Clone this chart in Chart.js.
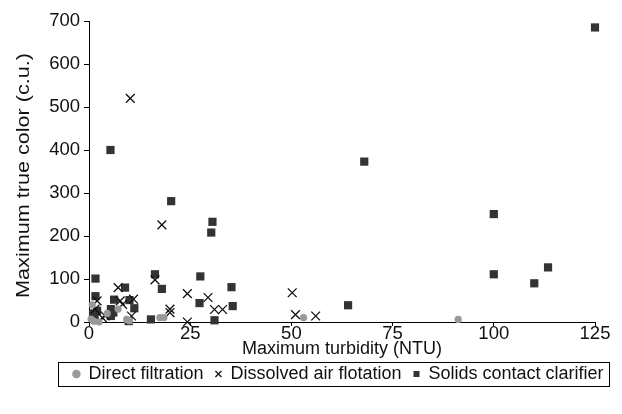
<!DOCTYPE html>
<html>
<head>
<meta charset="utf-8">
<script src="https://cdn.jsdelivr.net/npm/chart.js@4.4.1/dist/chart.umd.min.js"></script>
<style>
  html, body { margin: 0; padding: 0; background: #fff; }
  #wrap { width: 622px; height: 414px; }
</style>
</head>
<body>
<div id="wrap"><canvas id="c" width="622" height="414"></canvas></div>
<script>
  // Dữ liệu: [turbidity NTU, true color c.u.]
  const directFiltration = [
    [91.2, 6], [53, 10], [17.5, 10], [18.5, 10], [9.3, 6], [7.2, 30],
    [0.5, 7], [1.2, 2], [0.8, 40], [2.5, 0], [10, 3], [4.5, 20]
  ];
  const dissolvedAir = [
    [10.2, 520], [18, 226], [16.3, 98], [24.3, 66], [24.3, 0], [29.4, 57],
    [31, 29], [33, 29], [50.2, 68], [51, 17], [56, 14], [20, 30], [20, 22],
    [7.2, 80], [7.7, 49], [11, 53], [10.5, 14], [2, 49], [3.3, 10], [8.3, 41],
    [4, 14], [1.5, 30]
  ];
  const solidsContact = [
    [125, 685], [100, 251], [100, 111], [113.4, 127], [110, 90], [68, 373],
    [64, 39], [30.5, 233], [30.2, 208], [27.5, 106], [35.2, 81], [27.3, 44],
    [35.5, 37], [31, 4], [20.3, 281], [5.3, 400], [16.3, 111], [18, 77],
    [15.3, 6], [10, 51], [11.2, 32], [9.8, 2], [6.2, 52], [8.9, 80], [5.4, 30],
    [5.4, 14], [1.6, 101], [1.6, 60], [2, 26], [1.4, 12], [6, 22], [1, 20]
  ];
  const xTicks = [0, 25, 50, 75, 100, 125];
  const yTicks = [0, 100, 200, 300, 400, 500, 600, 700];
  const yTitle = 'Maximum true color (c.u.)';

  const toPts = (arr) => arr.map(([x, y]) => ({ x, y }));
  const FAMILY = 'Liberation Sans, Arial, sans-serif';
  const FONT = { family: FAMILY, size: 18 };
  const TICK_FONT = { family: FAMILY, size: 18.5 };
  const LEGEND_SHIFT = 41; // chú thích lệch phải như hình gốc

  // Dời chú thích sang phải (trước khi tính hitbox)
  const legendShift = {
    id: 'legendShift',
    afterLayout(chart) {
      const lg = chart.legend;
      if (!lg) return;
      lg.left += LEGEND_SHIFT;
      lg.right += LEGEND_SHIFT;
    }
  };

  // Khung viền quanh chú thích
  const legendBorder = {
    id: 'legendBorder',
    afterDraw(chart) {
      const lg = chart.legend;
      if (!lg || !lg.legendHitBoxes || !lg.legendHitBoxes.length) return;
      const hb = lg.legendHitBoxes;
      const left = Math.min(...hb.map(h => h.left)) - 15;
      const right = Math.max(...hb.map(h => h.left + h.width)) + 6;
      const top = Math.min(...hb.map(h => h.top)) - 3;
      const bottom = Math.max(...hb.map(h => h.top + h.height)) + 3;
      const ctx = chart.ctx;
      ctx.save();
      ctx.strokeStyle = '#000';
      ctx.lineWidth = 1;
      ctx.strokeRect(Math.round(left) + 0.5, Math.round(top) + 0.5,
        Math.round(right - left), Math.round(bottom - top));
      ctx.restore();
    }
  };

  // Tiêu đề trục y (kéo giãn theo chiều dọc như hình gốc)
  const yTitlePlugin = {
    id: 'yTitle',
    afterDraw(chart) {
      const { ctx, chartArea } = chart;
      ctx.save();
      ctx.translate(24, (chartArea.top + chartArea.bottom) / 2 + 4);
      ctx.rotate(-Math.PI / 2);
      ctx.scale(1.2, 1);
      ctx.font = `${FONT.size}px ${FONT.family}`;
      ctx.fillStyle = '#111';
      ctx.textAlign = 'center';
      ctx.textBaseline = 'middle';
      ctx.fillText(yTitle, 0, 0);
      ctx.restore();
    }
  };

  new Chart(document.getElementById('c'), {
    type: 'scatter',
    data: {
      datasets: [
        {
          label: 'Direct filtration',
          data: toPts(directFiltration),
          pointStyle: 'circle',
          pointRadius: 3.6,
          backgroundColor: '#999',
          borderColor: '#999',
          borderWidth: 0,
          clip: false
        },
        {
          label: 'Dissolved air flotation',
          data: toPts(dissolvedAir),
          pointStyle: 'crossRot',
          pointRadius: 6.2,
          backgroundColor: '#111',
          borderColor: '#111',
          borderWidth: 1.3,
          clip: false
        },
        {
          label: 'Solids contact clarifier',
          data: toPts(solidsContact),
          pointStyle: 'rect',
          pointRadius: 5.8,
          backgroundColor: '#333',
          borderColor: '#333',
          borderWidth: 0,
          clip: false
        }
      ]
    },
    options: {
      responsive: false,
      animation: false,
      layout: { padding: { left: 0, right: 27, top: 21, bottom: 21 } },
      plugins: {
        tooltip: { enabled: false },
        legend: {
          position: 'bottom',
          labels: {
            usePointStyle: true,
            boxWidth: 6,
            boxHeight: 6,
            padding: 12,
            color: '#111',
            font: FONT
          }
        }
      },
      scales: {
        x: {
          type: 'linear',
          min: 0, max: 125,
          afterBuildTicks: (s) => { s.ticks = xTicks.map(v => ({ value: v })); },
          afterFit: (s) => { s.height = 31; },
          grid: { drawOnChartArea: false, tickLength: 4, color: '#000' },
          border: { color: '#000', width: 1 },
          ticks: { color: '#111', font: TICK_FONT, padding: -3, maxRotation: 0 },
          title: { display: true, text: 'Maximum turbidity (NTU)', color: '#111', font: FONT, padding: { top: 0, bottom: -7 } }
        },
        y: {
          type: 'linear',
          min: 0, max: 700,
          afterBuildTicks: (s) => { s.ticks = yTicks.map(v => ({ value: v })); },
          afterFit: (s) => { s.width = 89; },
          grid: { drawOnChartArea: false, tickLength: 5, color: '#000' },
          border: { color: '#000', width: 1 },
          ticks: { color: '#111', font: TICK_FONT, padding: 4 },
          title: { display: false }
        }
      }
    },
    plugins: [legendShift, legendBorder, yTitlePlugin]
  });
</script>
</body>
</html>
